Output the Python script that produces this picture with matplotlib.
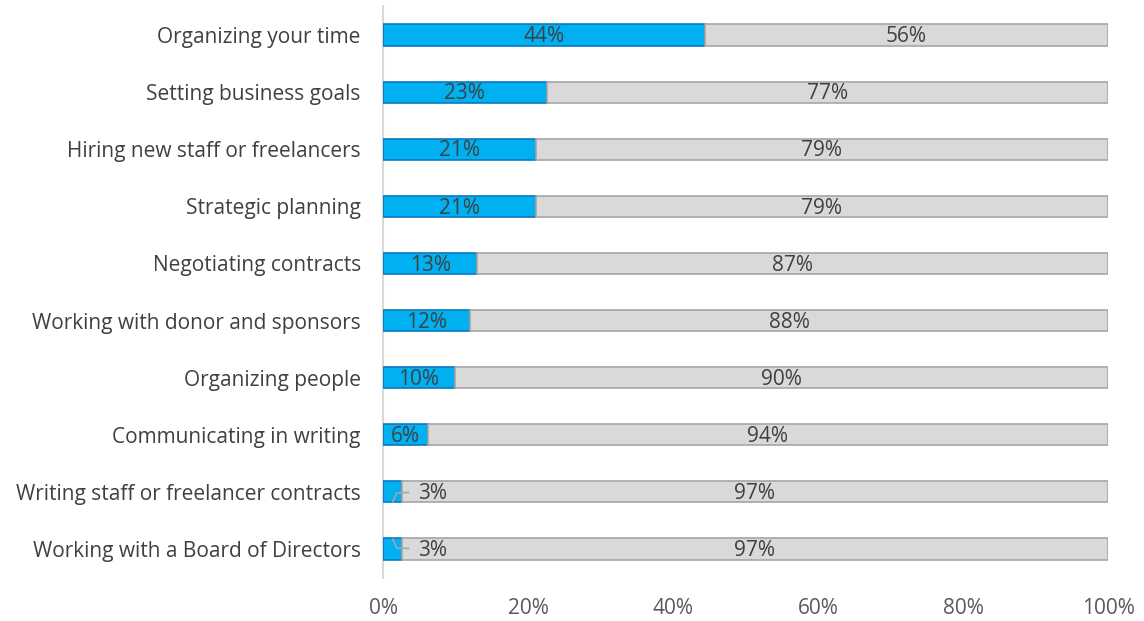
import matplotlib
matplotlib.use("Agg")
import matplotlib.pyplot as plt
import numpy as np

plt.rcParams['font.family'] = ['Open Sans', 'DejaVu Sans']

categories = [
    "Organizing your time",
    "Setting business goals",
    "Hiring new staff or freelancers",
    "Strategic planning",
    "Negotiating contracts",
    "Working with donor and sponsors",
    "Organizing people",
    "Communicating in writing",
    "Writing staff or freelancer contracts",
    "Working with a Board of Directors",
]
yes_values = [44.4, 22.6, 21.1, 21.1, 13.0, 12.0, 9.9, 6.2, 2.6, 2.6]
no_values = [100 - v for v in yes_values]
xticks = [0, 20, 40, 60, 80, 100]

BLUE = "#00B0F0"
BLUE_EDGE = "#0A78C2"
GRAY = "#D9D9D9"
GRAY_EDGE = "#A6A6A6"
TEXT = "#404040"

fig = plt.figure(figsize=(11.44, 6.21), dpi=100)
ax = fig.add_axes([383/1144, 1 - 577.6/621, (1108-383)/1144, (577.6-6.4)/621])

y = np.arange(len(categories))
h = 0.37
ax.barh(y, yes_values, height=h, color=BLUE, edgecolor=BLUE_EDGE, linewidth=1.2, zorder=3)
ax.barh(y, no_values, left=yes_values, height=h, color=GRAY, edgecolor=GRAY_EDGE, linewidth=1.2, zorder=3)

fs = 15
dy = 0.03
for i, (a, b) in enumerate(zip(yes_values, no_values)):
    if a >= 5:
        ax.text(a / 2, i + dy, f"{round(a):d}%", ha="center", va="center", fontsize=fs, color=TEXT, zorder=4)
    else:
        ax.text(6.8, i + dy, f"{round(a):d}%", ha="center", va="center", fontsize=fs, color=TEXT, zorder=4)
        sign = 1 if i % 2 == 0 else -1
        xs = [a * 0.52, a * 0.73, a + 0.9]
        ys = [i + 0.17 * sign, i + 0.02 * sign, i + 0.01 * sign]
        ax.plot(xs, ys, color="#A6A6A6", linewidth=1.2, zorder=5)
    ax.text(a + b / 2, i + dy, f"{round(b):d}%", ha="center", va="center", fontsize=fs, color=TEXT, zorder=4)

ax.set_xlim(0, 100)
ax.set_ylim(len(categories) - 0.5, -0.5)
ax.set_yticks(y)
ax.set_yticklabels(categories, fontsize=fs, color=TEXT)
ax.set_xticks(xticks)
ax.set_xticklabels([f"{t}%" for t in xticks], fontsize=fs, color="#595959")
ax.tick_params(axis="both", length=0)
ax.tick_params(axis="y", pad=16)
ax.tick_params(axis="x", pad=15)
for s in ["top", "right", "bottom"]:
    ax.spines[s].set_visible(False)
ax.spines["left"].set_color("#D9D9D9")
ax.spines["left"].set_linewidth(1.5)

fig.savefig("out.png", dpi=100)
